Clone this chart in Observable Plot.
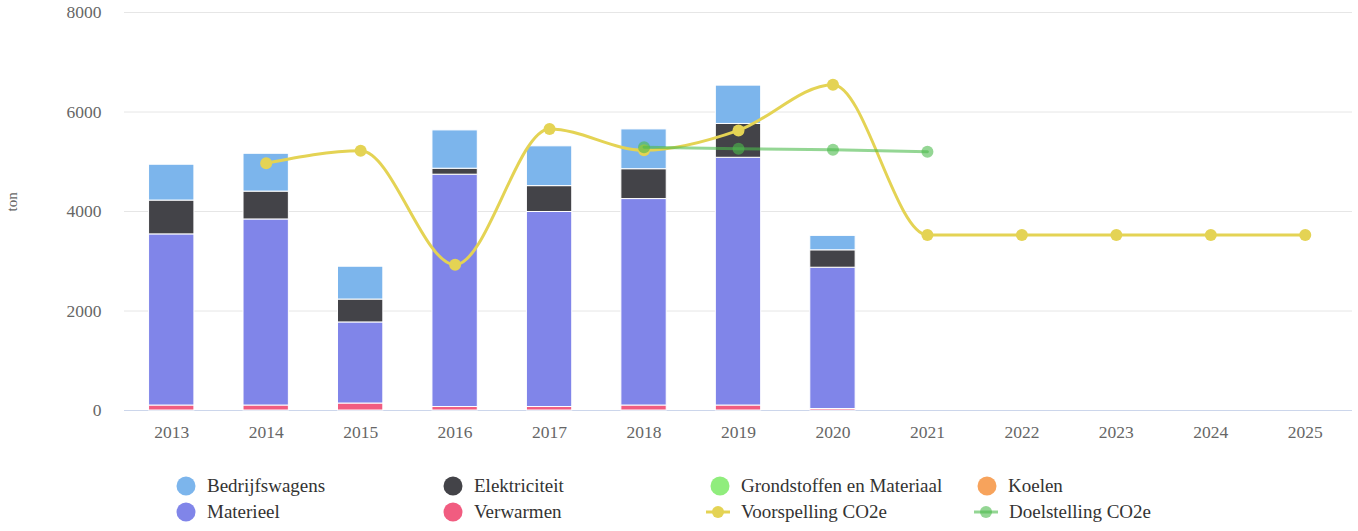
<!DOCTYPE html>
<html>
<head>
<meta charset="utf-8">
<script src="https://cdn.jsdelivr.net/npm/d3@7"></script>
<script src="https://cdn.jsdelivr.net/npm/@observablehq/plot@0.6"></script>
<style>
  body { margin: 0; background: #fff; font-family: 'Liberation Serif', 'DejaVu Serif', 'Times New Roman', Times, serif; }
  #chart { position: relative; width: 1358px; }
  #chart svg, #chart svg text { font-family: 'Liberation Serif', 'DejaVu Serif', 'Times New Roman', Times, serif !important; }
  .legend { position: relative; width: 1358px; height: 81px; font-size: 19px; color: #333; }
  .item { position: absolute; display: flex; align-items: center; white-space: nowrap; height: 24px; }
</style>
</head>
<body>
<div id="chart"></div>
<div class="legend" id="legend"></div>
<script>
const years = ["2013","2014","2015","2016","2017","2018","2019","2020","2021","2022","2023","2024","2025"];
const barYears = ["2013","2014","2015","2016","2017","2018","2019","2020"];
const verwarmen      = [100, 100, 140, 70, 70, 100, 100, 30];
const materieel      = [3440, 3740, 1630, 4670, 3920, 4150, 4980, 2840];
const elektriciteit  = [680, 560, 460, 120, 520, 600, 680, 350];
const bedrijfswagens = [720, 760, 660, 770, 800, 800, 770, 290];
const koelen         = [0, 0, 0, 0, 0, 0, 0, 0];
const grondstoffen   = [0, 0, 0, 0, 0, 0, 0, 0];

const voorspellingYears = ["2014","2015","2016","2017","2018","2019","2020","2021","2022","2023","2024","2025"];
const voorspelling = [4970, 5220, 2930, 5660, 5230, 5630, 6550, 3530, 3530, 3530, 3530, 3530];
const doelstellingYears = ["2018","2019","2020","2021"];
const doelstelling = [5290, 5260, 5240, 5200];

const yTicks = [0, 2000, 4000, 6000, 8000];

const seriesNames = ["Verwarmen","Materieel","Elektriciteit","Bedrijfswagens","Koelen","Grondstoffen en Materiaal"];
const seriesValues = [verwarmen, materieel, elektriciteit, bedrijfswagens, koelen, grondstoffen];
const colors = {
  "Bedrijfswagens": "#7cb5ec",
  "Elektriciteit": "#434348",
  "Grondstoffen en Materiaal": "#90ed7d",
  "Koelen": "#f7a35c",
  "Materieel": "#8085e9",
  "Verwarmen": "#f15c80",
  "Voorspelling CO2e": "#e4d354",
  "Doelstelling CO2e": "#4cbb4c"
};

const barData = [];
seriesNames.forEach((s, si) => {
  barYears.forEach((y, i) => {
    if (seriesValues[si][i] > 0) barData.push({year: y, series: s, value: seriesValues[si][i], order: si});
  });
});
const vData = voorspellingYears.map((y, i) => ({year: y, value: voorspelling[i]}));
const dData = doelstellingYears.map((y, i) => ({year: y, value: doelstelling[i]}));

const plot = Plot.plot({
  width: 1358,
  height: 450,
  marginLeft: 124,
  marginRight: 6,
  marginTop: 12,
  marginBottom: 40,
  style: {fontFamily: "'Liberation Serif', 'DejaVu Serif', serif", fontSize: "17.5px", color: "#666", background: "#fff"},
  x: {type: "band", domain: years, paddingInner: 0.52, paddingOuter: 0.26, round: false, label: null, tickSize: 0, tickPadding: 15},
  y: {domain: [0, 8000], ticks: yTicks, tickFormat: d3.format("d"), label: null, tickSize: 0, tickPadding: 23},
  marks: [
    Plot.gridY(yTicks.filter(d => d > 0), {stroke: "#e6e6e6", strokeOpacity: 1, strokeWidth: 1}),
    Plot.ruleY([0], {stroke: "#ccd6eb", strokeWidth: 1}),
    Plot.barY(barData, Plot.stackY({
      x: "year", y: "value", order: (d) => d.order,
      fill: d => colors[d.series], stroke: "#fff", strokeWidth: 1
    })),
    Plot.line(vData, {x: "year", y: "value", stroke: colors["Voorspelling CO2e"], strokeWidth: 3, curve: "monotone-x"}),
    Plot.dot(vData, {x: "year", y: "value", r: 6, fill: colors["Voorspelling CO2e"]}),
    Plot.line(dData, {x: "year", y: "value", stroke: colors["Doelstelling CO2e"], strokeWidth: 3, strokeOpacity: 0.6}),
    Plot.dot(dData, {x: "year", y: "value", r: 6, fill: colors["Doelstelling CO2e"], fillOpacity: 0.6}),
    Plot.text(["ton"], {frameAnchor: "left", dx: -112, rotate: -90, fontSize: 15, fill: "#666"})
  ]
});
document.getElementById("chart").appendChild(plot);

const legendItems = [
  {name: "Bedrijfswagens", type: "dot", cx: 186, y: 36},
  {name: "Elektriciteit", type: "dot", cx: 453, y: 36},
  {name: "Grondstoffen en Materiaal", type: "dot", cx: 720, y: 36},
  {name: "Koelen", type: "dot", cx: 987, y: 36},
  {name: "Materieel", type: "dot", cx: 186, y: 62},
  {name: "Verwarmen", type: "dot", cx: 453, y: 62},
  {name: "Voorspelling CO2e", type: "line", cx: 718, y: 62},
  {name: "Doelstelling CO2e", type: "line", cx: 986, y: 62}
];
const leg = document.getElementById("legend");
legendItems.forEach(it => {
  const div = document.createElement("div");
  div.className = "item";
  const c = colors[it.name];
  let sym;
  if (it.type === "dot") {
    div.style.left = (it.cx - 11) + "px";
    sym = `<svg width="22" height="22" style="margin-right:10px"><circle cx="11" cy="11" r="9.5" fill="${c}"/></svg>`;
  } else {
    div.style.left = (it.cx - 12) + "px";
    const op = it.name.startsWith("Doel") ? 0.6 : 1;
    sym = `<svg width="24" height="22" style="margin-right:11px"><line x1="0" x2="24" y1="11" y2="11" stroke="${c}" stroke-width="3" stroke-opacity="${op}"/><circle cx="12" cy="11" r="6" fill="${c}" fill-opacity="${op}"/></svg>`;
  }
  div.style.top = (it.y - 12) + "px";
  div.innerHTML = sym + `<span>${it.name}</span>`;
  leg.appendChild(div);
});
</script>
</body>
</html>
